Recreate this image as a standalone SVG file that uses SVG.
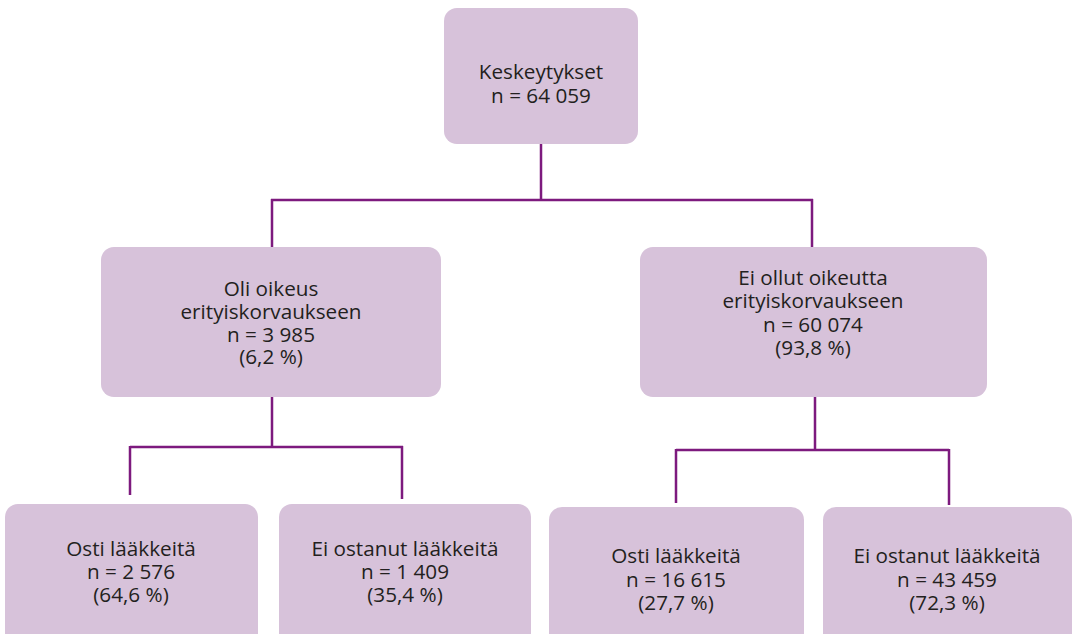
<svg xmlns="http://www.w3.org/2000/svg" width="1077" height="634" viewBox="0 0 1077 634">
<style>
.box{fill:#d7c2da;}
.t{font-family:"Open Sans","Noto Sans",sans-serif;font-size:20.7px;fill:#231f20;text-anchor:middle;}
.c{stroke:#7d1a7e;stroke-width:2.5;fill:none;}
</style>
<rect width="1077" height="634" fill="#ffffff"/>
<g id="connectors">
<path class="c" d="M541 144V200M271 200H813M272 199V248M812 199V248"/>
<path class="c" d="M272 397V447M130 447H403M130 446V495M402 446V499"/>
<path class="c" d="M815 397V450M676 450H949M676 449V503M949 449V505"/>
</g>
<g id="n_top"><rect class="box" x="444" y="8" width="194" height="136" rx="13"/>
<text class="t" x="541" y="79">Keskeytykset</text><text class="t" x="541" y="103">n = 64 059</text></g>
<g id="n_left"><rect class="box" x="101" y="247" width="340" height="150" rx="13"/>
<text class="t" x="271" y="296">Oli oikeus</text><text class="t" x="271" y="319">erityiskorvaukseen</text><text class="t" x="271" y="342">n = 3 985</text><text class="t" x="271" y="364">(6,2 %)</text></g>
<g id="n_right"><rect class="box" x="640" y="247" width="347" height="150" rx="13"/>
<text class="t" x="813" y="285">Ei ollut oikeutta</text><text class="t" x="813" y="308">erityiskorvaukseen</text><text class="t" x="813" y="332">n = 60 074</text><text class="t" x="813" y="355">(93,8 %)</text></g>
<g id="n_ll"><rect class="box" x="5" y="504" width="253" height="145" rx="13"/>
<text class="t" x="131" y="556">Osti lääkkeitä</text><text class="t" x="131" y="579">n = 2 576</text><text class="t" x="131" y="602">(64,6 %)</text></g>
<g id="n_lr"><rect class="box" x="279" y="504" width="252" height="145" rx="13"/>
<text class="t" x="405" y="556">Ei ostanut lääkkeitä</text><text class="t" x="405" y="579">n = 1 409</text><text class="t" x="405" y="602">(35,4 %)</text></g>
<g id="n_rl"><rect class="box" x="549" y="507" width="255" height="145" rx="13"/>
<text class="t" x="676" y="563">Osti lääkkeitä</text><text class="t" x="676" y="587">n = 16 615</text><text class="t" x="676" y="610">(27,7 %)</text></g>
<g id="n_rr"><rect class="box" x="823" y="507" width="249" height="145" rx="13"/>
<text class="t" x="947" y="563">Ei ostanut lääkkeitä</text><text class="t" x="947" y="587">n = 43 459</text><text class="t" x="947" y="610">(72,3 %)</text></g>
</svg>
